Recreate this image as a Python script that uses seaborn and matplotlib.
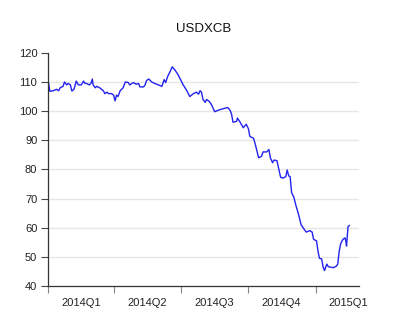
import matplotlib
matplotlib.use("Agg")
import matplotlib.pyplot as plt
import seaborn as sns
import pandas as pd
import matplotlib.dates as mdates

title = "USDXCB"
dates = [
    "2014-01-01", "2014-01-03", "2014-01-08", "2014-01-12", "2014-01-15", "2014-01-17",
    "2014-01-21", "2014-01-23", "2014-01-26", "2014-01-28", "2014-01-31", "2014-02-02",
    "2014-02-05", "2014-02-08", "2014-02-11", "2014-02-15", "2014-02-18", "2014-02-20",
    "2014-02-22", "2014-02-26", "2014-02-28", "2014-03-02", "2014-03-03", "2014-03-06",
    "2014-03-08", "2014-03-12", "2014-03-17", "2014-03-19", "2014-03-22", "2014-03-24",
    "2014-03-28", "2014-03-31", "2014-04-02", "2014-04-04", "2014-04-06", "2014-04-09",
    "2014-04-13", "2014-04-16", "2014-04-20", "2014-04-22", "2014-04-25", "2014-04-27",
    "2014-05-01", "2014-05-04", "2014-05-06", "2014-05-11", "2014-05-13", "2014-05-15",
    "2014-05-18", "2014-05-22", "2014-05-26", "2014-05-31", "2014-06-05", "2014-06-08",
    "2014-06-10", "2014-06-13", "2014-06-16", "2014-06-19", "2014-06-23", "2014-06-27",
    "2014-07-02", "2014-07-04", "2014-07-09", "2014-07-13", "2014-07-18", "2014-07-22",
    "2014-07-25", "2014-07-27", "2014-07-29", "2014-07-31", "2014-08-03", "2014-08-05",
    "2014-08-09", "2014-08-12", "2014-08-16", "2014-08-23", "2014-08-30", "2014-09-03",
    "2014-09-06", "2014-09-08", "2014-09-10", "2014-09-15", "2014-09-16", "2014-09-19",
    "2014-09-24", "2014-09-28", "2014-10-01", "2014-10-03", "2014-10-08", "2014-10-10",
    "2014-10-12", "2014-10-15", "2014-10-19", "2014-10-21", "2014-10-26", "2014-10-29",
    "2014-10-31", "2014-11-03", "2014-11-05", "2014-11-09", "2014-11-12", "2014-11-14",
    "2014-11-17", "2014-11-21", "2014-11-23", "2014-11-25", "2014-11-27", "2014-11-29",
    "2014-12-02", "2014-12-05", "2014-12-08", "2014-12-10", "2014-12-12", "2014-12-16",
    "2014-12-19", "2014-12-24", "2014-12-27", "2014-12-29", "2015-01-02", "2015-01-04",
    "2015-01-06", "2015-01-09", "2015-01-11", "2015-01-13", "2015-01-16", "2015-01-18",
    "2015-01-20", "2015-01-25", "2015-01-29", "2015-01-31", "2015-02-02", "2015-02-04",
    "2015-02-07", "2015-02-10", "2015-02-11", "2015-02-12", "2015-02-14", "2015-02-16",
]
values = [
    110.0, 106.8, 107.0, 107.5, 107.0, 108.0,
    108.5, 110.0, 109.0, 109.5, 109.0, 106.9,
    107.5, 110.3, 109.0, 109.0, 110.3, 109.5,
    109.5, 109.0, 109.5, 111.0, 109.0, 108.0,
    108.5, 108.0, 107.0, 106.0, 106.5, 106.0,
    106.0, 105.5, 103.5, 105.5, 105.0, 107.0,
    108.0, 110.0, 109.8, 109.0, 109.5, 109.8,
    109.2, 109.5, 108.3, 108.3, 109.0, 110.5,
    111.0, 110.0, 109.5, 109.0, 108.5, 110.8,
    109.8, 112.0, 113.5, 115.2, 114.0, 112.5,
    110.0, 109.0, 107.0, 105.0, 106.0, 106.5,
    105.8, 107.0, 106.5, 104.0, 103.0, 104.0,
    103.2, 102.0, 99.8, 100.5, 101.0, 101.2,
    100.3, 99.0, 96.2, 96.5, 97.6, 96.5,
    94.3, 95.5, 94.0, 91.3, 90.7, 89.0,
    87.0, 84.0, 84.5, 86.0, 86.0, 86.8,
    84.0, 82.3, 83.2, 83.0, 79.5, 77.3,
    77.0, 77.5, 79.8, 77.8, 77.5, 72.0,
    70.5, 67.5, 65.0, 63.0, 61.0, 59.5,
    58.5, 59.0, 58.5, 56.0, 55.5, 52.0,
    49.5, 49.3, 46.5, 45.3, 47.5, 46.7,
    46.5, 46.3, 46.8, 47.5, 52.0, 54.5,
    56.0, 56.5, 55.5, 53.7, 60.3, 60.8,
]
y_ticks = [40, 50, 60, 70, 80, 90, 100, 110, 120]
quarter_starts = ["2014-01-01", "2014-04-01", "2014-07-01", "2014-10-01", "2015-01-01"]
quarter_mids = ["2014-02-15", "2014-05-16", "2014-08-16", "2014-11-15", "2015-02-15"]
quarter_labels = ["2014Q1", "2014Q2", "2014Q3", "2014Q4", "2015Q1"]

df = pd.DataFrame({"date": pd.to_datetime(dates), "value": values})

sns.set_style("white")
plt.rcParams["font.family"] = ["Liberation Sans", "DejaVu Sans"]

fig = plt.figure(figsize=(4.0, 3.26), dpi=100)
ax = fig.add_axes([0.121, 0.1227, 0.7765, 0.7153])

sns.lineplot(data=df, x="date", y="value", ax=ax, color="#2222ee", linewidth=1.0)

ax.set_xlim(pd.Timestamp("2014-01-01"), pd.Timestamp("2015-03-01"))
ax.set_ylim(40, 120)
ax.set_yticks(y_ticks)
ax.set_yticklabels([str(v) for v in y_ticks], fontsize=8, color="#222222")

ax.set_xticks(mdates.date2num(pd.to_datetime(quarter_starts)))
ax.set_xticklabels([])
ax.set_xticks(mdates.date2num(pd.to_datetime(quarter_mids)), minor=True)
ax.set_xticklabels(quarter_labels, minor=True, fontsize=8, color="#222222")

ax.tick_params(axis="x", which="major", direction="out", length=5, width=0.8,
               color="#888888", bottom=True)
ax.tick_params(axis="x", which="minor", length=0, pad=9)
ax.tick_params(axis="y", direction="out", length=5, width=0.8, color="#444444",
               left=True, pad=3)

ax.grid(axis="y", color="#e6e6e6", linewidth=1.0)
ax.grid(axis="x", visible=False)
gl = ax.get_ygridlines()
gl[0].set_visible(False)
gl[-1].set_visible(False)
ax.set_axisbelow(True)

for side in ["top", "right"]:
    ax.spines[side].set_visible(False)
for side in ["left", "bottom"]:
    ax.spines[side].set_color("#333333")
    ax.spines[side].set_linewidth(0.9)

ax.set_xlabel("")
ax.set_ylabel("")
ax.set_title(title, fontsize=9.5, pad=15, color="#111111")

fig.savefig("out.png", dpi=100)
